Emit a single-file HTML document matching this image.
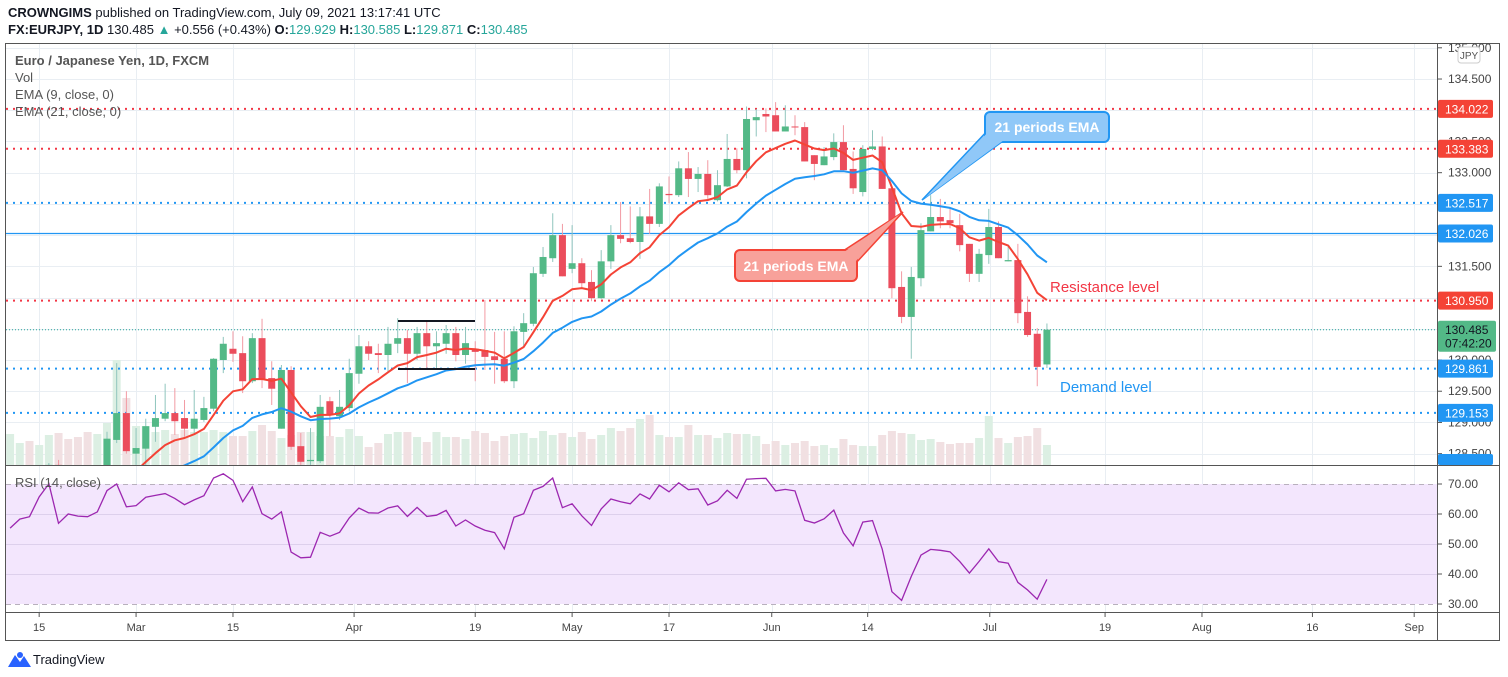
<!DOCTYPE html>
<html><head><meta charset="utf-8">
<style>
html,body{margin:0;padding:0;background:#fff;}
svg{display:block;font-family:"Liberation Sans",sans-serif;}
</style></head>
<body>
<svg id="chart" width="1508" height="677" viewBox="0 0 1508 677" xmlns="http://www.w3.org/2000/svg">
  <defs>
    <clipPath id="mainClip"><rect x="6" y="43" width="1431" height="422"/></clipPath>
    <clipPath id="rsiClip"><rect x="6" y="466" width="1431" height="146"/></clipPath>
  </defs>
  <text x="8" y="17" font-size="13" fill="#131722"><tspan font-weight="bold">CROWNGIMS</tspan> published on TradingView.com, July 09, 2021 13:17:41 UTC</text>
  <text x="8" y="34" font-size="13" fill="#131722"><tspan font-weight="bold">FX:EURJPY, 1D</tspan> 130.485 <tspan fill="#26a69a">▲</tspan> +0.556 (+0.43%) <tspan font-weight="bold">O:</tspan><tspan fill="#26a69a">129.929</tspan> <tspan font-weight="bold">H:</tspan><tspan fill="#26a69a">130.585</tspan> <tspan font-weight="bold">L:</tspan><tspan fill="#26a69a">129.871</tspan> <tspan font-weight="bold">C:</tspan><tspan fill="#26a69a">130.485</tspan></text>

  <rect x="5.5" y="43.5" width="1494" height="597" fill="none" stroke="#555" stroke-width="1"/>
  <g id="grid"></g>
  <rect x="6" y="484" width="1431" height="120" fill="#f3e6fd"/>
  <g id="rsiGrid"></g>
  <g id="volume" clip-path="url(#mainClip)"></g>
  <g id="levels" clip-path="url(#mainClip)"></g>
  <g id="candles" clip-path="url(#mainClip)"></g>
  <g id="emas" clip-path="url(#mainClip)"></g>
  <g id="rsi" clip-path="url(#rsiClip)"></g>
  <line x1="398" y1="321" x2="475" y2="321" stroke="#131722" stroke-width="2"/>
  <line x1="398" y1="369" x2="475" y2="369" stroke="#131722" stroke-width="2"/>

  <g>
    <polygon points="990,128 922,200 1003,141" fill="#90c8f8" stroke="#2196f3" stroke-width="1.5"/>
    <rect x="985" y="112" width="124" height="30" rx="5" fill="#90c8f8" stroke="#2196f3" stroke-width="2"/>
    <polygon points="991,129 925,198 1004,140" fill="#90c8f8"/>
    <text x="1047" y="132" font-size="14" font-weight="bold" fill="#fff" text-anchor="middle">21 periods EMA</text>
  </g>
  <g>
    <polygon points="843,251 903,212 856,263" fill="#f8a19a" stroke="#f44336" stroke-width="1.5"/>
    <rect x="735" y="250" width="122" height="31" rx="5" fill="#f8a19a" stroke="#f44336" stroke-width="2"/>
    <polygon points="844,252 900,214 855,262" fill="#f8a19a"/>
    <text x="796" y="271" font-size="14" font-weight="bold" fill="#fff" text-anchor="middle">21 periods EMA</text>
  </g>
  <text x="1050" y="292" font-size="15" fill="#f23645">Resistance level</text>
  <text x="1060" y="392" font-size="15" fill="#2196f3">Demand level</text>

  <g font-size="13" fill="#555">
    <text x="15" y="65" font-weight="bold">Euro / Japanese Yen, 1D, FXCM</text>
    <text x="15" y="82">Vol</text>
    <text x="15" y="99">EMA (9, close, 0)</text>
    <text x="15" y="116">EMA (21, close, 0)</text>
  </g>
  <text x="15" y="487" font-size="13" fill="#555">RSI (14, close)</text>

  <line x1="6" y1="465.5" x2="1500" y2="465.5" stroke="#555"/>
  <line x1="6" y1="612.5" x2="1500" y2="612.5" stroke="#555"/>
  <line x1="1437.5" y1="43" x2="1437.5" y2="640" stroke="#555"/>
  <g id="priceAxis"></g>
  <g id="timeAxis"></g>
  <rect x="1458" y="47" width="22" height="16" rx="3" fill="#fff" stroke="#ccc"/>
  <text x="1469" y="59" font-size="10" fill="#555" text-anchor="middle">JPY</text>
  <g id="labels"></g>

  <g>
    <path d="M8 667 L15 655 L20 662 L24 656 L31 667 Z" fill="#2962ff"/>
    <circle cx="20" cy="655" r="3" fill="#2962ff"/>
    <text x="33" y="664" font-size="13" fill="#131722">TradingView</text>
  </g>
</svg>
<script>
const opens=[127.3,127.4,127.5,127.4,127.6,128.32,127.6,127.5,127.4,127.3,128.16,128.72,129.15,128.50,128.58,128.93,129.06,129.15,129.07,128.90,129.04,129.22,130.00,130.18,130.11,129.66,130.35,129.71,128.90,129.84,128.62,128.38,128.38,129.34,129.10,129.23,129.78,130.22,130.11,130.08,130.26,130.35,130.10,130.43,130.22,130.26,130.43,130.08,130.18,130.16,130.06,130.02,129.66,130.45,130.58,131.38,131.63,132.00,131.46,131.55,131.25,130.99,131.58,132.00,131.95,131.89,132.30,132.18,132.66,132.64,133.07,132.90,132.98,132.56,132.78,133.22,133.04,133.84,133.94,133.92,133.66,133.74,133.73,133.28,133.12,133.25,133.49,133.06,132.69,133.38,133.42,132.75,131.17,130.69,131.31,132.06,132.29,132.24,132.16,131.86,131.38,131.68,132.13,131.58,131.60,130.77,130.42,129.929];
const highs=[127.7,127.8,127.8,127.9,128.35,128.4,127.9,127.75,127.7,127.9,128.85,129.95,129.50,128.91,129.06,129.44,129.62,129.55,129.36,129.52,129.41,130.03,130.37,130.46,130.38,130.43,130.66,129.98,129.92,129.90,128.83,128.91,129.44,129.41,129.52,130.02,130.40,130.30,130.26,130.53,130.67,130.48,130.53,130.61,130.46,130.56,130.53,130.53,130.30,130.96,130.45,130.46,130.54,130.75,131.49,131.81,132.35,132.18,132.16,131.63,131.44,131.76,132.16,132.53,132.46,132.45,132.74,132.83,132.94,133.18,133.33,133.09,133.20,133.04,133.62,133.39,134.06,134.02,134.03,134.13,134.08,133.92,133.81,133.28,133.41,133.63,133.76,133.34,133.44,133.68,133.58,132.75,131.42,131.49,132.19,132.64,132.58,132.45,132.34,131.86,131.78,132.42,132.22,131.84,131.86,131.02,130.51,130.585];
const lows=[127.0,127.1,127.2,127.1,127.4,127.5,127.3,127.2,127.0,127.0,128.08,128.67,128.50,128.32,128.30,128.69,129.02,128.80,128.77,128.83,129.01,129.18,129.79,129.97,129.47,129.63,129.55,129.28,128.90,128.56,128.32,128.32,128.35,128.78,129.04,129.18,129.62,130.00,129.79,129.81,130.11,129.63,130.00,129.84,129.84,130.10,129.98,129.94,129.66,129.84,129.62,129.63,129.55,130.19,130.54,131.33,131.57,131.34,131.39,131.14,130.94,130.98,131.46,131.87,131.87,131.62,132.02,132.13,132.51,132.61,132.61,132.69,132.58,132.54,132.77,132.99,132.91,133.58,133.65,133.66,133.66,133.60,133.18,132.88,133.12,133.20,133.04,132.66,132.62,133.36,132.74,130.99,130.59,130.02,131.18,132.06,132.11,132.11,131.74,131.25,131.25,131.54,131.63,131.58,130.59,130.37,129.58,129.871];
const closes=[127.4,127.5,127.4,127.6,128.32,127.6,127.5,127.4,127.3,127.5,128.74,129.15,128.54,128.59,128.94,129.07,129.15,129.02,128.90,129.06,129.23,130.02,130.26,130.10,129.66,130.35,129.70,129.54,129.84,128.61,128.37,128.40,129.25,129.12,129.25,129.79,130.22,130.10,130.08,130.26,130.35,130.10,130.43,130.22,130.27,130.43,130.08,130.27,130.13,130.05,130.00,129.66,130.46,130.59,131.39,131.65,132.00,131.34,131.55,131.23,130.99,131.58,132.00,131.94,131.89,132.30,132.18,132.78,132.64,133.07,132.90,132.98,132.64,132.80,133.22,133.04,133.86,133.89,133.90,133.66,133.74,133.73,133.18,133.14,133.26,133.49,133.04,132.75,133.38,133.42,132.74,131.15,130.69,131.33,132.08,132.29,132.22,132.19,131.84,131.38,131.70,132.13,131.63,131.60,130.75,130.40,129.89,130.485];
const volumes=[31,22,24,20,30,32,26,28,33,31,42,105,67,39,39,33,35,31,35,33,33,35,33,29,29,34,40,34,27,30,33,33,29,29,28,36,29,18,22,31,33,33,28,23,33,28,28,26,34,32,24,29,31,32,27,34,30,32,28,33,26,30,37,34,37,46,50,30,28,28,40,30,30,27,32,31,31,29,21,24,20,22,24,19,20,17,26,20,19,19,30,34,32,31,25,26,23,21,22,22,27,49,27,22,28,29,37,20];
const rsiValues=[55.3,58.3,59.1,65.7,70.1,56.9,60,59.3,59.1,60.7,67.8,70,62.4,62.8,65.6,66.2,66.8,65.2,63.1,64.7,66.1,72,73.4,71.2,64.1,69,60.1,58.3,60.7,47.3,45.4,45.6,53.9,52.6,53.9,58.7,62,60.4,60.3,62,62.7,59.2,62.2,59.2,59.6,61.2,56,58,56,54.6,53.8,48.4,58.9,60.1,67.9,69.2,72,62.1,63.4,59.4,56.2,61.7,65,64.1,63.4,66.7,65,69.6,67.4,70.4,68.1,68.4,63,64.4,67.9,65.2,71.6,71.8,71.9,67.7,68.2,67.7,57.9,57,58.4,61.3,53.7,49.4,57.3,57.8,48.3,34.1,31.2,39.2,46.3,48.2,47.9,47.4,44.2,40.3,44.2,48.4,44.1,43.6,37.2,34.7,31.6,38.2];
const priceTicks=["135.000","134.500","134.000","133.500","133.000","132.500","132.000","131.500","131.000","130.500","130.000","129.500","129.000","128.500"];
const rsiTicks=["70.00","60.00","50.00","40.00","30.00"];
const timeLabels=["15","Mar","15","Apr","19","May","17","Jun","14","Jul","19","Aug","16","Sep"];
const timeBarIdx=[3,13,23,35.5,48,58,68,78.6,88.5,101.1,113,123,134.4,144.9];
const redLevels=[134.022,133.383,130.950];
const blueLevels=[132.517,129.861,129.153];
const solidLevels=[132.026];

const NS="http://www.w3.org/2000/svg";
function X(i){return 10.1+9.69*i;}
function Y(p){return 360-(p-130)*62.44;}
function RY(v){return 484+(70-v)*3;}
function mk(tag,attrs,parent){const e=document.createElementNS(NS,tag);for(const k in attrs)e.setAttribute(k,attrs[k]);parent.appendChild(e);return e;}
const G=id=>document.getElementById(id);

const grid=G('grid');
priceTicks.forEach(t=>{const y=Math.round(Y(parseFloat(t)))+0.5;
  const l=mk('line',{x1:6,x2:1437,y1:y,y2:y,stroke:'#e9eef3'},grid);
  
  });
timeBarIdx.forEach(b=>{const x=Math.round(X(b))+0.5;
  const l=mk('line',{x1:x,x2:x,y1:44,y2:612,stroke:'#e9eef3'},grid);
  
  });
const rg=G('rsiGrid');
rsiTicks.forEach((t,k)=>{const y=Math.round(RY(parseFloat(t)))+0.5;const ends=(k==0||k==rsiTicks.length-1);
  const l=mk('line',{x1:6,x2:1437,y1:y,y2:y,stroke:ends?'#b8b0bd':'#ddd0ec','stroke-dasharray':ends?'5,4':'none'},rg);
  
  });

const vg=G('volume');
volumes.forEach((v,i)=>{const up=closes[i]>=opens[i];
  const r=mk('rect',{x:X(i)-4,y:465-v,width:8,height:v,fill:up?'#dcefe3':'#f1e0e2'},vg);
  
  });

const lg=G('levels');
function level(p,color,dash,name){const y=Y(p);
  const l=mk('line',{x1:6,x2:1437,y1:y,y2:y,stroke:color,'stroke-width':dash?2:1.2,'stroke-dasharray':dash?'2,5':'none'},lg);
  
  }
redLevels.forEach(p=>level(p,'#f23645',true,'resistance-line'));
blueLevels.forEach(p=>level(p,'#2196f3',true,'support-line'));
solidLevels.forEach(p=>level(p,'#2196f3',false,'solid-level-line'));
{const y=Y(closes[closes.length-1]);const l=mk('line',{x1:6,x2:1437,y1:y,y2:y,stroke:'#26a69a','stroke-width':1,'stroke-dasharray':'1,2'},lg);
 
 }

const cg=G('candles');
opens.forEach((o,i)=>{const c=closes[i],up=c>=o,col=up?'#53b987':'#eb4d5c';const x=X(i);
  const w=mk('line',{x1:x,x2:x,y1:Y(highs[i]),y2:Y(lows[i]),stroke:up?'#8fc5bd':'#f29aa3','stroke-width':1},cg);
  
  
  const top=Y(Math.max(o,c)),bot=Y(Math.min(o,c));
  const b=mk('rect',{x:x-3.5,y:top,width:7,height:Math.max(1,bot-top),fill:col},cg);
  
  });

function ema(n){const a=2/(n+1);let e=closes[0];return closes.map(c=>(e=e+a*(c-e)));}
const eg=G('emas');
[[9,'#f44336','ema-9-line'],[21,'#2196f3','ema-21-line']].forEach(([n,col,name])=>{
  const pts=ema(n).map((v,i)=>X(i).toFixed(1)+','+Y(v).toFixed(1)).join(' ');
  const pl=mk('polyline',{points:pts,fill:'none',stroke:col,'stroke-width':2,'stroke-linejoin':'round'},eg);
  
  });

{const pts=rsiValues.map((v,i)=>X(i).toFixed(1)+','+RY(v).toFixed(1)).join(' ');
 const pl=mk('polyline',{points:pts,fill:'none',stroke:'#9c27b0','stroke-width':1.3},G('rsi'));
 
 }

const pa=G('priceAxis');
priceTicks.forEach(t=>{const y=Y(parseFloat(t));
  const tk=mk('line',{x1:1437,x2:1442,y1:y,y2:y,stroke:'#555'},pa);
  
  
  const tx=mk('text',{x:1448,y:y+4,'font-size':12,fill:'#444'},pa);tx.textContent=t;
  
  });
rsiTicks.forEach(t=>{const y=RY(parseFloat(t));
  const tk=mk('line',{x1:1437,x2:1442,y1:y,y2:y,stroke:'#555'},pa);
  
  
  const tx=mk('text',{x:1448,y:y+4,'font-size':12,fill:'#444'},pa);tx.textContent=t;
  
  });
const ta=G('timeAxis');
timeLabels.forEach((t,k)=>{const x=X(timeBarIdx[k]);
  const tk=mk('line',{x1:x,x2:x,y1:612,y2:617,stroke:'#555'},ta);
  
  
  const tx=mk('text',{x:x,y:631,'font-size':11,fill:'#444','text-anchor':'middle'},ta);tx.textContent=t;
  
  });

const lb=G('labels');
function plabel(p,col,txtCol,name){const y=Y(p);
  const r=mk('rect',{x:1438,y:y-9,width:55,height:18,rx:2,fill:col},lb);
  
  
  const t=mk('text',{x:1445,y:y+4.5,'font-size':12,fill:txtCol},lb);t.textContent=p.toFixed(3);
  
  }
redLevels.forEach(p=>plabel(p,'#f44336','#fff','resistance-price-label'));
blueLevels.forEach(p=>plabel(p,'#2196f3','#fff','support-price-label'));
solidLevels.forEach(p=>plabel(p,'#2196f3','#fff','level-price-label'));
{const r=mk('rect',{x:1438,y:454,width:55,height:11,rx:2,fill:'#2196f3'},lb);
 
 }
{const last=closes[closes.length-1];const y=Y(last);
 const r=mk('rect',{x:1438,y:y-9,width:58,height:31,rx:2,fill:'#53b987'},lb);
 
 
 const t=mk('text',{x:1445,y:y+4.5,'font-size':12,fill:'#131722'},lb);t.textContent=last.toFixed(3);
 
 
 const t2=mk('text',{x:1445,y:y+18,'font-size':12,fill:'#131722'},lb);t2.textContent='07:42:20';
 
 }
</script>
</body></html>
